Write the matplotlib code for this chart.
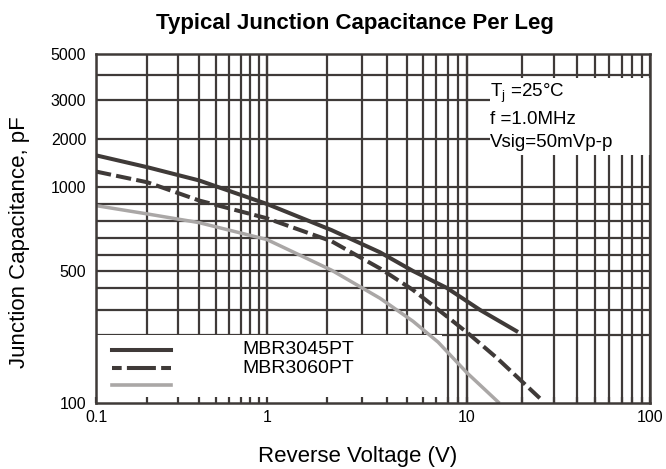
import numpy as np
import matplotlib
matplotlib.use('Agg')
import matplotlib.pyplot as plt
from matplotlib.patches import Rectangle

plt.rcParams['font.family'] = ['Liberation Sans', 'DejaVu Sans']

v45 = [0.1, 0.2, 0.4, 1, 2.1, 3.67, 5.37, 7.94, 11.8, 19]
c45 = [1580, 1330, 1100, 900, 745, 615, 500, 400, 300, 210]
v60 = [0.1, 0.2, 0.4, 1, 2.1, 3.67, 5.37, 7.94, 10.4, 14.6, 25]
c60 = [1250, 1070, 920, 815, 680, 515, 390, 270, 200, 158, 105]
vgr = [0.1, 0.2, 0.4, 1, 2.1, 3.67, 5.37, 7.17, 10, 14.8]
cgr = [890, 840, 790, 690, 505, 350, 250, 186, 136, 101]
names = ['MBR3045PT', 'MBR3060PT']
xticks = [0.1, 1, 10, 100]
xticklabels = ['0.1', '1', '10', '100']
yticks = [100, 500, 1000, 2000, 3000, 5000]
conds = ['T$_\\mathregular{j}$ =25°C', 'f =1.0MHz', 'Vsig=50mVp-p']

dark = '#3f3a38'
grey = '#aaa7a6'

# the printed chart's log axes are not evenly spaced: calibrate them
# from where its grid lines sit (pixels in a 666x469 picture)
ycal_v = np.log10([100, 200, 300, 400, 500, 600, 700, 800, 900, 1000, 2000, 3000, 4000, 5000])
ycal_p = 403 - np.array([403, 335, 310, 288, 271, 255, 238, 221, 204, 187, 139, 100, 75, 54])
xcal_v = np.log10([0.1, 1, 10, 100])
xcal_p = np.array([96, 267, 467, 650]) - 96

def yfwd(v):
    return np.interp(np.log10(np.clip(v, 1e-9, None)), ycal_v, ycal_p, left=-1e3, right=1e3)
def yinv(u):
    return 10**np.interp(u, ycal_p, ycal_v)
def xfwd(v):
    return np.interp(np.log10(np.clip(v, 1e-9, None)), xcal_v, xcal_p, left=-1e3, right=1e3)
def xinv(u):
    return 10**np.interp(u, xcal_p, xcal_v)

fig = plt.figure(figsize=(6.66, 4.69), dpi=100)
ax = fig.add_axes([96/666, 1-403/469, 554/666, 349/469])
ax.set_xscale('function', functions=(xfwd, xinv))
ax.set_yscale('function', functions=(yfwd, yinv))
ax.set_xlim(0.1, 100); ax.set_ylim(100, 5000)

# grid drawn by hand so the white boxes can sit on top of it
xminor = [d*k for d in [0.1, 1, 10] for k in range(1, 11)]
for x in xminor:
    ax.axvline(x, color=dark, lw=1.6, zorder=1)
for d in [100, 1000]:
    for k in range(1, 10):
        if 100 < d*k < 5000:
            ax.axhline(d*k, color=dark, lw=1.6, zorder=1)

# white boxes (legend lower left, conditions upper right)
ax.add_patch(Rectangle((0.1, 100), 7.5-0.1, 200-100, facecolor='white',
                       edgecolor='none', zorder=2))
ax.add_patch(Rectangle((0.711, 0.711), 0.289, 0.22, transform=ax.transAxes,
                       facecolor='white', edgecolor='none', zorder=2))

ax.plot(v45, c45, color=dark, lw=2.9, solid_capstyle='butt', zorder=3)
ax.plot(v60, c60, color=dark, lw=2.9, dashes=(3.8, 1.3), zorder=3)
ax.plot(vgr, cgr, color=grey, lw=2.5, zorder=3)

# legend
ax.plot([0.029, 0.135], [0.152, 0.152], color=dark, lw=2.9,
        transform=ax.transAxes, zorder=4)
ax.plot([0.029, 0.135], [0.10, 0.10], color=dark, lw=2.9,
        dashes=(2.4, 1.3, 7.2, 1.3, 3, 10), transform=ax.transAxes, zorder=4)
ax.plot([0.029, 0.135], [0.052, 0.052], color=grey, lw=2.6,
        transform=ax.transAxes, zorder=4)
for yy, nm in zip([0.152, 0.10], names):
    ax.text(0.264, yy, nm, transform=ax.transAxes, fontsize=14, va='center', zorder=4)

for yy, t in zip([0.888, 0.811, 0.745], conds):
    ax.text(0.711, yy, t, transform=ax.transAxes, fontsize=13.5, va='center', zorder=4)

ax.set_xticks(xticks); ax.set_xticklabels(xticklabels)
ax.set_xticks([x for x in xminor if x not in xticks], minor=True)
ax.set_yticks(yticks); ax.set_yticklabels([str(y) for y in yticks])
ax.yaxis.set_minor_locator(matplotlib.ticker.NullLocator())
ax.tick_params(axis='x', which='both', direction='in', length=4, width=1.6,
               color=dark, labelsize=11.5, pad=5)
ax.tick_params(axis='y', which='both', length=0, labelsize=11.5, pad=7)
ax.set_axisbelow(False)
for s in ax.spines.values():
    s.set_color(dark); s.set_linewidth(1.8); s.set_zorder(5)

fig.text(358/666, 1-456/469, 'Reverse Voltage (V)', fontsize=16,
         ha='center', va='center')
fig.text(20/666, 1-242/469, 'Junction Capacitance, pF', fontsize=16,
         rotation=90, ha='center', va='center')
fig.text(355/666, 1-23/469, 'Typical Junction Capacitance Per Leg', fontsize=16,
         fontweight='bold', ha='center', va='center')

fig.savefig('out.png', dpi=100)
